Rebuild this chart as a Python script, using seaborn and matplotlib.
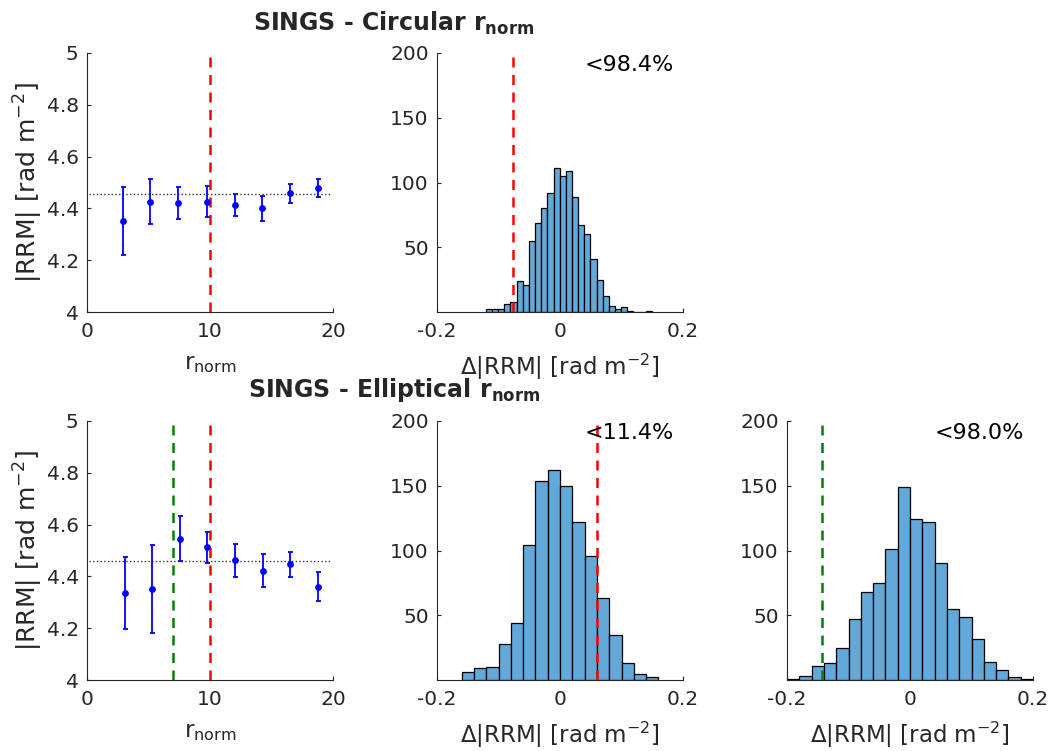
import numpy as np
import pandas as pd
import seaborn as sns
import matplotlib.pyplot as plt

# |RRM| vs r_norm, circular
r_circ = [2.9, 5.16, 7.43, 9.73, 12.0, 14.24, 16.5, 18.8]
rrm_circ = [4.351, 4.426, 4.422, 4.426, 4.412, 4.400, 4.461, 4.480]
rrm_circ_lo = [4.222, 4.338, 4.361, 4.365, 4.369, 4.350, 4.421, 4.444]
rrm_circ_hi = [4.483, 4.512, 4.483, 4.485, 4.454, 4.449, 4.495, 4.512]
mean_circ = 4.457
cut_circ = 10

# |RRM| vs r_norm, elliptical
r_ell = [3.05, 5.32, 7.54, 9.78, 12.03, 14.27, 16.5, 18.76]
rrm_ell = [4.336, 4.351, 4.544, 4.514, 4.463, 4.422, 4.448, 4.359]
rrm_ell_lo = [4.196, 4.180, 4.458, 4.450, 4.399, 4.359, 4.399, 4.304]
rrm_ell_hi = [4.475, 4.521, 4.633, 4.573, 4.526, 4.485, 4.494, 4.416]
mean_ell = 4.458
cut_ell_red = 10
cut_ell_green = 7

# histograms of delta |RRM|
edges_circ = np.round(np.arange(-0.1205, 0.1505, 0.01), 4)
counts_circ = [2, 2, 2, 6, 8, 24, 21, 55, 69, 80, 92, 111, 105, 109, 89, 67,
               60, 41, 25, 12, 5, 2, 4, 1, 0, 0, 1]
line_circ = -0.0768
pct_circ = "<98.4%"

edges_ell_red = np.round(np.arange(-0.16, 0.1601, 0.02), 4)
counts_ell_red = [6, 9, 10, 28, 44, 104, 154, 162, 150, 122, 96, 63, 35, 13, 5, 2]
line_ell_red = 0.06
pct_ell_red = "<11.4%"

edges_ell_green = np.round(np.arange(-0.2, 0.2001, 0.02), 4)
counts_ell_green = [1, 3, 11, 13, 25, 47, 68, 75, 101, 149, 124, 122, 90, 55,
                    49, 32, 14, 8, 2, 1]
line_ell_green = -0.143
pct_ell_green = "<98.0%"

sns.set_style("ticks")
plt.rcParams["font.family"] = ["DejaVu Sans"]
plt.rcParams["mathtext.fontset"] = "dejavusans"
plt.rcParams["xtick.direction"] = "in"
plt.rcParams["ytick.direction"] = "in"

dark = "#262626"
bar_col = "#62A8D8"
fs_tick = 14.5
fs_lab = 16.5

fig = plt.figure(figsize=(10.54, 7.51), dpi=100)
W, H = 1054, 751


def add_ax(x0, y0, x1, y1):
    return fig.add_axes([x0 / W, 1 - y1 / H, (x1 - x0) / W, (y1 - y0) / H])


def style(ax):
    sns.despine(ax=ax)
    for s in ["left", "bottom"]:
        ax.spines[s].set_color(dark)
        ax.spines[s].set_linewidth(0.8)
    ax.tick_params(labelsize=fs_tick, colors=dark, length=3, width=0.8)
    ax.tick_params(axis="x", pad=7)
    ax.tick_params(axis="y", pad=6)


def rrm_panel(ax, r, v, lo, hi, mean, vlines):
    style(ax)
    ax.axhline(mean, color="#333333", ls=":", lw=1, xmin=0.01, xmax=0.99)
    yerr = [np.array(v) - np.array(lo), np.array(hi) - np.array(v)]
    ax.errorbar(r, v, yerr=yerr, fmt="none", ecolor="blue", elinewidth=1.3,
                capsize=1.8, capthick=1.3)
    sns.scatterplot(x=r, y=v, ax=ax, color="blue", s=24, edgecolor="blue",
                    linewidth=0, zorder=3)
    for xv, c in vlines:
        ax.axvline(xv, color=c, ls=(0, (4, 3)), lw=1.8)
    ax.set_xlim(0, 20)
    ax.set_ylim(4, 5)
    ax.set_xticks([0, 10, 20])
    ax.set_yticks([4, 4.2, 4.4, 4.6, 4.8, 5])
    ax.set_yticklabels(["4", "4.2", "4.4", "4.6", "4.8", "5"])
    ax.set_ylabel(r"|RRM| [rad m$^{-2}$]", fontsize=18, color=dark, labelpad=1)
    ax.set_xlabel(r"r$_{\mathregular{norm}}$", fontsize=fs_lab, color=dark, labelpad=8)


def hist_panel(ax, edges, counts, xline, col, pct):
    style(ax)
    centers = (edges[:-1] + edges[1:]) / 2
    df = pd.DataFrame({"d": centers, "n": counts})
    sns.histplot(data=df, x="d", weights="n", bins=list(edges), ax=ax, color=bar_col,
                 edgecolor="k", linewidth=0.9, alpha=1)
    ax.axvline(xline, color=col, ls=(0, (4, 3)), lw=1.8, ymax=0.99)
    ax.set_xlim(-0.2, 0.2)
    ax.set_ylim(0, 200)
    ax.set_xticks([-0.2, 0, 0.2])
    ax.set_xticklabels(["-0.2", "0", "0.2"])
    ax.set_yticks([50, 100, 150, 200])
    ax.set_ylabel("")
    ax.set_xlabel(r"$\Delta$|RRM| [rad m$^{-2}$]", fontsize=fs_lab, color=dark, labelpad=8)
    ax.text(0.04, 191, pct, fontsize=fs_lab - 0.5, color="k", va="center", ha="left")


ax1 = add_ax(87, 53, 333, 312)
rrm_panel(ax1, r_circ, rrm_circ, rrm_circ_lo, rrm_circ_hi, mean_circ,
          [(cut_circ, "red")])
ax2 = add_ax(437, 53, 683, 312)
hist_panel(ax2, edges_circ, counts_circ, line_circ, "red", pct_circ)

ax3 = add_ax(87, 421, 333, 680)
rrm_panel(ax3, r_ell, rrm_ell, rrm_ell_lo, rrm_ell_hi, mean_ell,
          [(cut_ell_green, "green"), (cut_ell_red, "red")])
ax4 = add_ax(437, 421, 683, 680)
hist_panel(ax4, edges_ell_red, counts_ell_red, line_ell_red, "red", pct_ell_red)
ax5 = add_ax(787, 421, 1033, 680)
hist_panel(ax5, edges_ell_green, counts_ell_green, line_ell_green, "green", pct_ell_green)

fig.text(394 / W, 1 - 23 / H, r"SINGS - Circular $\mathbf{r_{norm}}$",
         ha="center", va="center", fontsize=17, fontweight="bold")
fig.text(394 / W, 1 - 390 / H, r"SINGS - Elliptical $\mathbf{r_{norm}}$",
         ha="center", va="center", fontsize=17, fontweight="bold")

fig.savefig("out.png", dpi=100)
